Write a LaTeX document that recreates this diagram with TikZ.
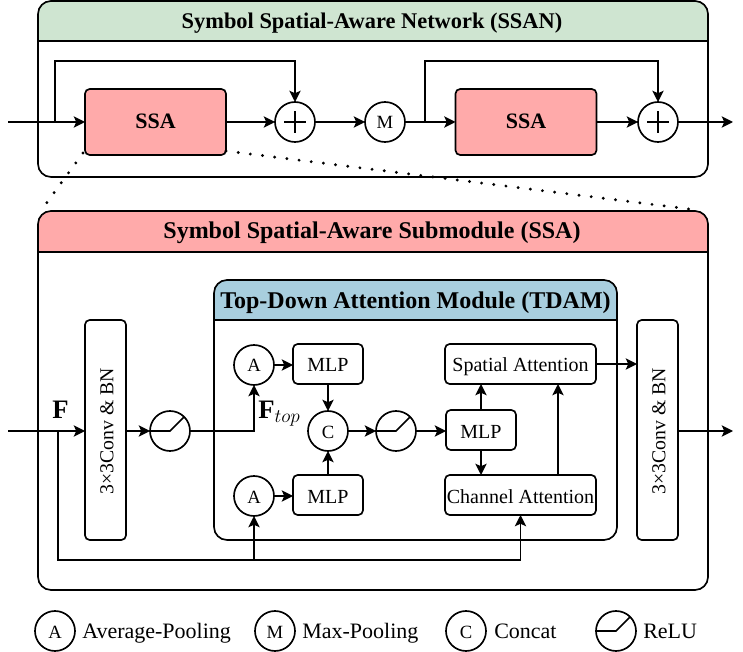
\documentclass[tikz,border=0pt]{standalone}
\usepackage{fontspec}
\setmainfont{Liberation Serif}
\usetikzlibrary{arrows.meta}
\definecolor{hdrgreen}{RGB}{207,229,209}
\definecolor{hdrpink}{RGB}{255,170,170}
\definecolor{hdrblue}{RGB}{168,206,222}
\tikzset{
  base/.style={draw,line width=1.25pt,inner sep=0pt,outer sep=0pt},
  ssabox/.style={base,rounded corners=3.5pt,fill=hdrpink,minimum width=105.75pt,minimum height=49.5pt,text height=10.5pt,text depth=0pt,font=\fontsize{16.5}{16.5}\selectfont\bfseries},
  mlpbox/.style={base,rounded corners=3.5pt,fill=white,minimum width=52.5pt,minimum height=30pt,text height=12pt,text depth=0pt,font=\fontsize{15}{15}\selectfont},
  attbox/.style={mlpbox,minimum width=113.25pt},
  convbox/.style={base,rounded corners=3.5pt,fill=white,minimum width=30.75pt,minimum height=165pt},
  convtext/.style={rotate=90,inner sep=0pt,font=\fontsize{14.8}{14.8}\selectfont},
  op/.style={base,circle,fill=white,minimum size=30pt,text height=10.5pt,text depth=0pt,font=\fontsize{14}{14}\selectfont},
  plusop/.style={op,path picture={
    \draw[line width=2pt] ([xshift=-8pt]path picture bounding box.center) -- ([xshift=8pt]path picture bounding box.center);
    \draw[line width=2pt] ([yshift=-8pt]path picture bounding box.center) -- ([yshift=8pt]path picture bounding box.center);}},
  reluop/.style={op,path picture={
    \draw[line width=1.25pt] (path picture bounding box.west) -- (path picture bounding box.center) -- (path picture bounding box.north east);}},
  title/.style={inner sep=0pt,anchor=base,font=\fontsize{18}{18}\selectfont\bfseries},
  legend/.style={inner sep=0pt,anchor=west,text height=10.5pt,text depth=0pt,font=\fontsize{16.5}{16.5}\selectfont},
  flabel/.style={inner sep=0pt,anchor=base west,font=\fontsize{20}{20}\selectfont},
  link/.style={line width=1.25pt,->},
  guide/.style={line width=2.4pt,line cap=round,dash pattern=on 0pt off 9.2pt},
}
\begin{document}
\begin{tikzpicture}[x=0.75pt,y=-0.75pt,>={Stealth[length=8.5pt,width=8.5pt,inset=2pt]}]
\useasboundingbox (0,0) rectangle (743,652);
% panels
\foreach \xa/\ya/\xb/\yb/\yh/\col in {38/1/708/177/41/hdrgreen,38/211/708/590/252/hdrpink,214/280/617/540/320/hdrblue}{
  \begin{scope}
  \clip (\xa-2,\ya-2) rectangle (\xb+2,\yh);
  \fill[\col,rounded corners=9.75pt] (\xa,\ya) rectangle (\xb,\yb);
  \end{scope}
  \draw[line width=1.25pt,rounded corners=9.75pt] (\xa,\ya) rectangle (\xb,\yb);
  \draw[line width=1.25pt] (\xa,\yh) -- (\xb,\yh);
}
\node[title,font=\fontsize{16.8}{16.8}\selectfont\bfseries] (ssantitle) at (372,29) {Symbol Spatial-Aware Network (SSAN)};
\node[title] (ssatitle) at (372,239) {Symbol Spatial-Aware Submodule (SSA)};
\node[title] (tdamtitle) at (415.5,308.5) {Top-Down Attention Module (TDAM)};
% SSAN row
\coordinate (ina) at (8,122);
\coordinate (brancha) at (55,122);
\coordinate (topa) at (55,61);
\node[ssabox] (ssaa) at (155.5,122) {SSA};
\node[plusop] (plusa) at (295,122) {};
\node[op] (maxa) at (385,122) {M};
\coordinate (branchb) at (425,122);
\coordinate (topb) at (425,61);
\node[ssabox] (ssab) at (526,122) {SSA};
\node[plusop] (plusb) at (658,122) {};
\coordinate (outa) at (733,122);
% SSA module
\coordinate (inb) at (8,431);
\coordinate (branchc) at (58,431);
\coordinate (lowa) at (58,560);
\coordinate (lowb) at (254,560);
\node[convbox] (conva) at (105.5,430) {};
\node[convtext] (convatext) at (107,431) {3×3Conv \& BN};
\node[reluop] (relua) at (170,431) {};
\coordinate (bendtop) at (254,431);
\node[op] (avga) at (254,365) {A};
\node[op] (avgb) at (254,496) {A};
\node[mlpbox] (mlpa) at (328,364) {MLP};
\node[mlpbox] (mlpb) at (328,495) {MLP};
\node[op] (concat) at (328,431) {C};
\node[reluop] (relub) at (396,431) {};
\node[mlpbox] (mlpc) at (481,430) {MLP};
\node[attbox] (spatial) at (520.5,364) {Spatial Attention};
\node[attbox] (channel) at (520.5,495) {Channel Attention};
\node[convbox] (convb) at (657.5,430) {};
\node[convtext] (convbtext) at (659,431) {3×3Conv \& BN};
\coordinate (outb) at (733,431);
\node[flabel] (flab) at (52,419) {$\mathbf{F}$};
\node[flabel] (ftop) at (258,418) {$\mathbf{F}_{top}$};
% connectors
\draw[link] (ina) -- (ssaa);
\draw[link] (brancha) -- (topa) -| (plusa);
\draw[link] (ssaa) -- (plusa);
\draw[link] (plusa) -- (maxa);
\draw[link] (maxa) -- (ssab);
\draw[link] (branchb) -- (topb) -| (plusb);
\draw[link] (ssab) -- (plusb);
\draw[link] (plusb) -- (outa);
\draw[link] (inb) -- (inb -| conva.west);
\draw[link] (branchc) -- (lowa) -| (channel);
\draw[link] (lowb) -- (avgb);
\draw[link] (conva.east |- relua) -- (relua);
\draw[link] (relua) -- (bendtop) -- (avga);
\draw[link] (avga) -- (avga -| mlpa.west);
\draw[link] (avgb) -- (avgb -| mlpb.west);
\draw[link] (mlpa) -- (concat);
\draw[link] (mlpb) -- (concat);
\draw[link] (concat) -- (relub);
\draw[link] (relub) -- (relub -| mlpc.west);
\draw[link] (mlpc) -- (mlpc |- spatial.south);
\draw[link] (mlpc) -- (mlpc |- channel.north);
\draw[link] (channel.north -| 558,0) -- (spatial.south -| 558,0);
\draw[link] (spatial) -- (spatial -| convb.west);
\draw[link] (convb.east |- outb) -- (outb);
% dotted guides
\coordinate (taila) at (40,212);
\coordinate (tailb) at (697,210);
\draw[guide] (ssaa.south west) ++(-2,-2) -- (taila);
\draw[guide] (ssaa.south east) ++(0,-4) -- (tailb);
% legend
\node[op] (lega) at (55,631) {A};
\node[legend] (legatext) at (82,631) {Average-Pooling};
\node[op] (legm) at (275,631) {M};
\node[legend] (legmtext) at (302,631) {Max-Pooling};
\node[op] (legc) at (466,631) {C};
\node[legend] (legctext) at (494,631) {Concat};
\node[reluop] (legr) at (616,631) {};
\node[legend] (legrtext) at (643,631) {ReLU};
\end{tikzpicture}
\end{document}
